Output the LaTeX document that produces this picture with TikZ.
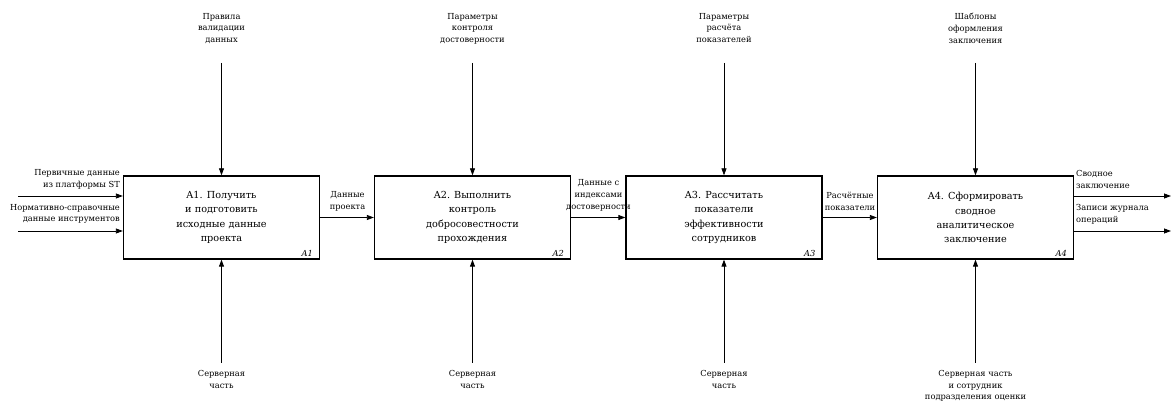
\documentclass[tikz,border=0pt]{standalone}
\usepackage{fontspec}
\setmainfont{DejaVu Serif}
\usetikzlibrary{arrows.meta}
\begin{document}
\begin{tikzpicture}[x=1pt,y=-1pt,
  func/.style={draw, line width=1.3pt, minimum width=196pt, minimum height=83pt,
    inner sep=0pt, align=center, font=\fontsize{9.7}{14.2}\selectfont},
  flow/.style={line width=0.8pt, -{Triangle[length=7pt,width=5pt]}},
  lbl/.style={font=\fontsize{8.3}{11.7}\selectfont, inner sep=0pt, align=center},
  num/.style={font=\fontsize{8.3}{10}\selectfont\itshape, inner sep=0pt, anchor=south east}]
\useasboundingbox (0,0) rectangle (1171,403);

% activity boxes
\node[func] (A1) at (221.5,217.5) {A1. Получить\\и подготовить\\исходные данные\\проекта};
\node[func] (A2) at (472.5,217.5) {A2. Выполнить\\контроль\\добросовестности\\прохождения};
\node[func] (A3) at (724,217.5) {A3. Рассчитать\\показатели\\эффективности\\сотрудников};
\node[func] (A4) at (975.5,217.5) {A4. Сформировать\\сводное\\аналитическое\\заключение};

% box numbers
\foreach \b in {A1,A2,A3,A4}
  \node[num] (n\b) at ([xshift=-7pt,yshift=3pt]\b.south east) {\b};

% controls (top)
\foreach \b/\t in {A1/{Правила\\валидации\\данных},
                   A2/{Параметры\\контроля\\достоверности},
                   A3/{Параметры\\расчёта\\показателей},
                   A4/{Шаблоны\\оформления\\заключения}} {
  \coordinate (t\b) at (\b.north |- 0,63);
  \node[lbl, anchor=north] (tl\b) at (\b.north |- 0,13) {\t};
  \draw[flow] (t\b) -- (\b.north);
}

% mechanisms (bottom)
\foreach \b/\t in {A1/{Серверная\\часть},
                   A2/{Серверная\\часть},
                   A3/{Серверная\\часть},
                   A4/{Серверная часть\\и сотрудник\\подразделения оценки}} {
  \coordinate (m\b) at (\b.south |- 0,363);
  \node[lbl, anchor=north] (ml\b) at (\b.south |- 0,370) {\t};
  \draw[flow] (m\b) -- (\b.south);
}

% inputs
\coordinate (in1) at (18,196);
\coordinate (in2) at (18,231);
\draw[flow] (in1) -- (A1.west |- in1);
\draw[flow] (in2) -- (A1.west |- in2);
\node[lbl, align=right, anchor=south east] (il1) at (120,189) {Первичные данные\\из платформы ST};
\node[lbl, align=right, anchor=south east] (il2) at (120,224) {Нормативно-справочные\\данные инструментов};

% flows between activities
\draw[flow] (A1.east) -- (A2.west);
\draw[flow] (A2.east) -- (A3.west);
\draw[flow] (A3.east) -- (A4.west);
\node[lbl, anchor=south] (f1) at (347.5,211) {Данные\\проекта};
\node[lbl, anchor=south] (f2) at (598.5,211) {Данные с\\индексами\\достоверности};
\node[lbl, anchor=south] (f3) at (850,211) {Расчётные\\показатели};

% outputs
\coordinate (out1) at (1171,196);
\coordinate (out2) at (1171,231);
\draw[flow] (A4.east |- out1) -- (out1);
\draw[flow] (A4.east |- out2) -- (out2);
\node[lbl, align=left, anchor=south west] (ol1) at (1076,189) {Сводное\\заключение};
\node[lbl, align=left, anchor=south west] (ol2) at (1076,224) {Записи журнала\\операций};
\end{tikzpicture}
\end{document}
